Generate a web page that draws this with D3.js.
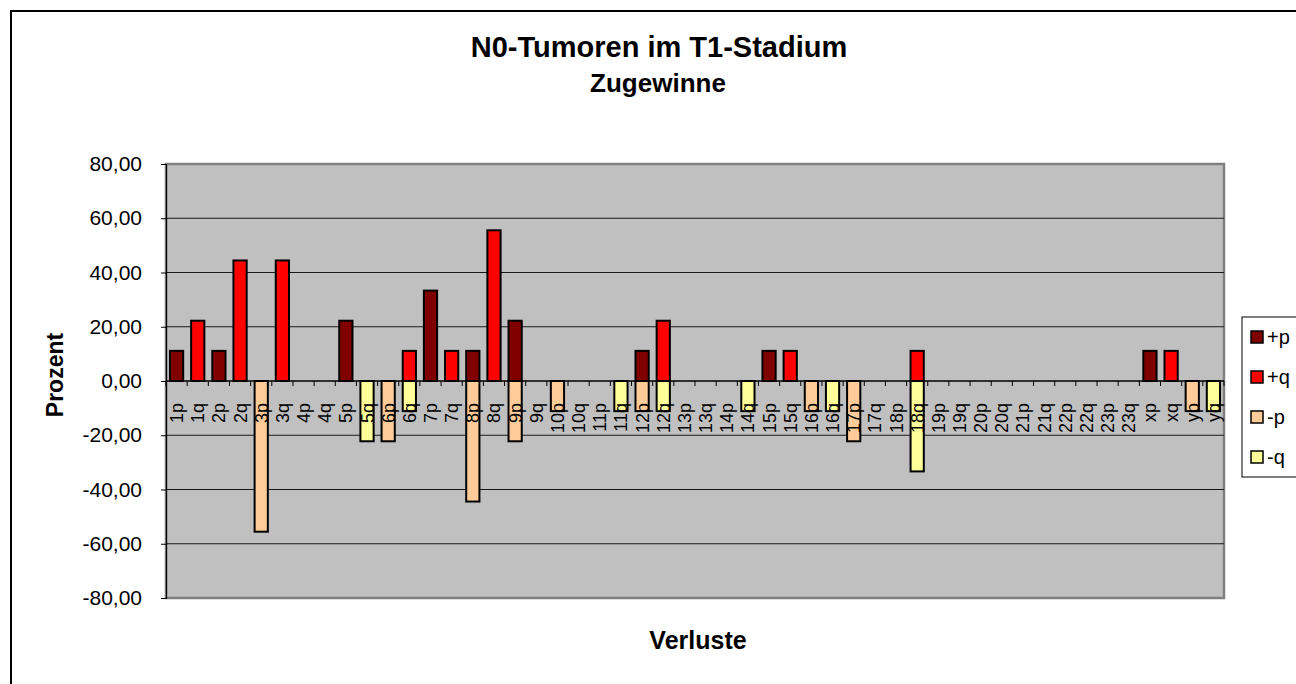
<!DOCTYPE html>
<html>
<head>
<meta charset="utf-8">
<script src="https://cdn.jsdelivr.net/npm/d3@7"></script>
<style>
  html, body { margin: 0; padding: 0; background: #fff; }
  svg { display: block; font-family: "Liberation Sans", Arial, Helvetica, sans-serif; }
</style>
</head>
<body>
<svg id="chart" width="1296" height="684"></svg>
<script>
// Chromosome arms along the category axis
const categories = [
  "1p","1q","2p","2q","3p","3q","4p","4q","5p","5q",
  "6p","6q","7p","7q","8p","8q","9p","9q","10p","10q",
  "11p","11q","12p","12q","13p","13q","14p","14q","15p","15q",
  "16p","16q","17p","17q","18p","18q","19p","19q","20p","20q",
  "21p","21q","22p","22q","23p","23q","xp","xq","yp","yq"
];

// Percent of cases per arm, one array per series
const plusP = [
  11.11,0,11.11,0,0,0,0,0,22.22,0,
  0,0,33.33,0,11.11,0,22.22,0,0,0,
  0,0,11.11,0,0,0,0,0,11.11,0,
  0,0,0,0,0,0,0,0,0,0,
  0,0,0,0,0,0,11.11,0,0,0
];
const plusQ = [
  0,22.22,0,44.44,0,44.44,0,0,0,0,
  0,11.11,0,11.11,0,55.56,0,0,0,0,
  0,0,0,22.22,0,0,0,0,0,11.11,
  0,0,0,0,0,11.11,0,0,0,0,
  0,0,0,0,0,0,0,11.11,0,0
];
const minusP = [
  0,0,0,0,-55.56,0,0,0,0,0,
  -22.22,0,0,0,-44.44,0,-22.22,0,-11.11,0,
  0,0,-11.11,0,0,0,0,0,0,0,
  -11.11,0,-22.22,0,0,0,0,0,0,0,
  0,0,0,0,0,0,0,0,-11.11,0
];
const minusQ = [
  0,0,0,0,0,0,0,0,0,-22.22,
  0,-11.11,0,0,0,0,0,0,0,0,
  0,-11.11,0,-11.11,0,0,0,-11.11,0,0,
  0,-11.11,0,0,0,-33.33,0,0,0,0,
  0,0,0,0,0,0,0,0,0,-11.11
];

const seriesNames = ["+p", "+q", "-p", "-q"];
const seriesColors = ["#800000", "#FF0000", "#FFCC99", "#FFFF99"];
const yTicks = [-80, -60, -40, -20, 0, 20, 40, 60, 80];

const titleText = "N0-Tumoren im T1-Stadium";
const subtitleText = "Zugewinne";
const yTitle = "Prozent";
const xTitle = "Verluste";

// Table built from the series arrays for d3.stack
const table = categories.map((c, i) => ({
  cat: c,
  "+p": plusP[i], "+q": plusQ[i], "-p": minusP[i], "-q": minusQ[i]
}));

const svg = d3.select("#chart");
const plot = { left: 166, right: 1224, top: 164, bottom: 598 };

const x = d3.scaleBand().domain(categories).range([plot.left, plot.right]).padding(0);
const y = d3.scaleLinear().domain([-80, 80]).range([plot.bottom, plot.top]);

const locale = d3.formatLocale({ decimal: ",", thousands: ".", grouping: [3], currency: ["", "€"], minus: "-" });
const fmt = locale.format(".2f");

// Outer chart frame
svg.append("rect")
  .attr("x", 11).attr("y", 11).attr("width", 1400).attr("height", 800)
  .attr("fill", "#fff").attr("stroke", "#000").attr("stroke-width", 2);

// Titles
svg.append("text").attr("x", 659).attr("y", 57)
  .attr("text-anchor", "middle").attr("font-size", 29).attr("font-weight", "bold")
  .text(titleText);
svg.append("text").attr("x", 658).attr("y", 92)
  .attr("text-anchor", "middle").attr("font-size", 26).attr("font-weight", "bold")
  .text(subtitleText);

// Plot area
svg.append("rect")
  .attr("x", plot.left).attr("y", plot.top)
  .attr("width", plot.right - plot.left).attr("height", plot.bottom - plot.top)
  .attr("fill", "#C0C0C0").attr("stroke", "#808080").attr("stroke-width", 2.5);

// Horizontal gridlines
svg.append("g").selectAll("line")
  .data(yTicks.filter(t => t !== -80 && t !== 80 && t !== 0))
  .join("line")
  .attr("x1", plot.left).attr("x2", plot.right)
  .attr("y1", d => y(d)).attr("y2", d => y(d))
  .attr("stroke", "#1a1a1a").attr("stroke-width", 1);

// Stacked bars (positives up, negatives down)
const stack = d3.stack().keys(seriesNames).offset(d3.stackOffsetDiverging);
const layers = stack(table);
const barW = x.bandwidth() / 1.6;

svg.append("g").selectAll("g")
  .data(layers)
  .join("g")
  .attr("fill", (d, i) => seriesColors[i])
  .selectAll("rect")
  .data(d => d.filter(s => s[1] - s[0] !== 0))
  .join("rect")
  .attr("x", d => x(d.data.cat) + (x.bandwidth() - barW) / 2)
  .attr("y", d => y(Math.max(d[0], d[1])))
  .attr("width", barW)
  .attr("height", d => Math.abs(y(d[0]) - y(d[1])))
  .attr("stroke", "#000").attr("stroke-width", 2);

// Value axis
const yAxis = d3.axisLeft(y).tickValues(yTicks).tickSize(5).tickPadding(19).tickFormat(fmt);
const yg = svg.append("g").attr("transform", `translate(${plot.left},0)`).call(yAxis);
yg.select(".domain").attr("stroke", "#000").attr("stroke-width", 1.2);
yg.selectAll(".tick line").attr("stroke", "#000");
yg.selectAll(".tick text").attr("font-size", 21).attr("fill", "#000")
  .attr("font-family", "'Liberation Sans', Arial, sans-serif");

// Category axis through zero
const catAxis = svg.append("g");
catAxis.append("line")
  .attr("x1", plot.left).attr("x2", plot.right)
  .attr("y1", y(0)).attr("y2", y(0))
  .attr("stroke", "#000").attr("stroke-width", 1.5);
catAxis.selectAll("line.tk")
  .data(d3.range(categories.length + 1))
  .join("line").attr("class", "tk")
  .attr("x1", i => plot.left + i * x.step()).attr("x2", i => plot.left + i * x.step())
  .attr("y1", y(0)).attr("y2", y(0) + 5)
  .attr("stroke", "#000").attr("stroke-width", 1);
catAxis.selectAll("text")
  .data(categories)
  .join("text")
  .attr("transform", d => `translate(${x(d) + x.bandwidth() / 2},${y(0) + 22}) rotate(-90)`)
  .attr("text-anchor", "end").attr("dy", "0.36em")
  .attr("font-size", 18).attr("fill", "#000")
  .text(d => d);

// Axis titles
svg.append("text")
  .attr("transform", `translate(55,375) rotate(-90)`)
  .attr("text-anchor", "middle").attr("dy", "0.36em")
  .attr("font-size", 23).attr("font-weight", "bold")
  .text(yTitle);
svg.append("text").attr("x", 698).attr("y", 649)
  .attr("text-anchor", "middle").attr("font-size", 25).attr("font-weight", "bold")
  .text(xTitle);

// Legend
const legend = svg.append("g");
legend.append("rect")
  .attr("x", 1242).attr("y", 317).attr("width", 100).attr("height", 160)
  .attr("fill", "#fff").attr("stroke", "#000").attr("stroke-width", 1);
const items = legend.selectAll("g.item")
  .data(seriesNames)
  .join("g").attr("class", "item")
  .attr("transform", (d, i) => `translate(1251,${337 + i * 40})`);
items.append("rect")
  .attr("x", 0).attr("y", -6).attr("width", 12).attr("height", 12)
  .attr("fill", (d, i) => seriesColors[i]).attr("stroke", "#000").attr("stroke-width", 1.5);
items.append("text")
  .attr("x", 16).attr("dy", "0.36em")
  .attr("font-size", 20).attr("fill", "#000")
  .text(d => d);
</script>
</body>
</html>
